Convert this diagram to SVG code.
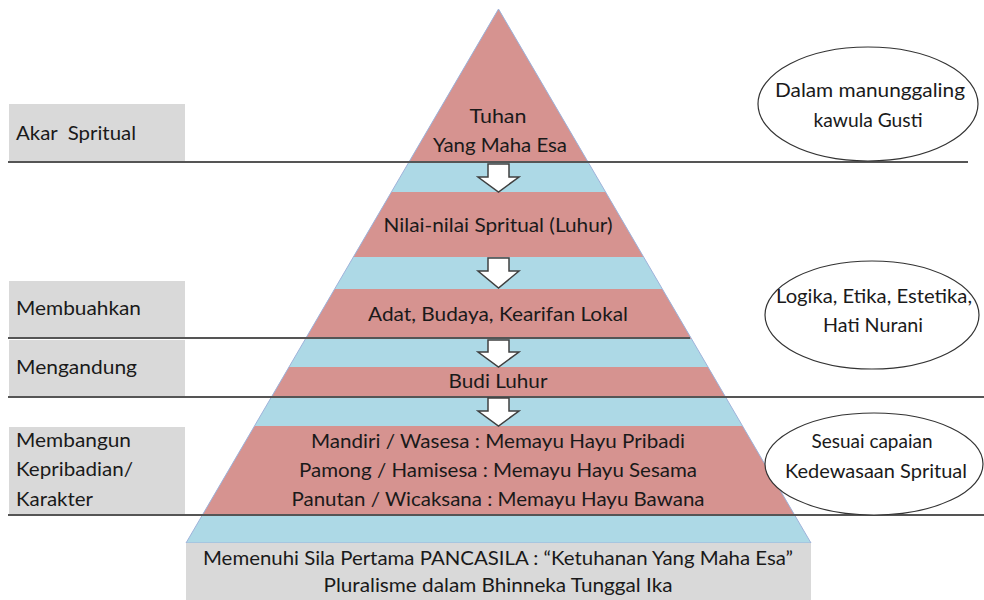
<svg xmlns="http://www.w3.org/2000/svg" width="984" height="600" viewBox="0 0 984 600">
<style>
text{font-family:Lato,"Open Sans","Liberation Sans",sans-serif;font-size:20px;fill:#1a1a1a}
.c{text-anchor:middle}
.pink{fill:#D69390}
.gray{fill:#D9D9D9}
.sep{stroke:#555;stroke-width:2;fill:none}
.ell{fill:#fff;stroke:#333;stroke-width:1.2}
.arr{fill:#fff;stroke:#404040;stroke-width:1.5;stroke-linejoin:miter}
</style>
<defs>
<clipPath id="tri"><polygon points="498.5,9 186,543 811,543"/></clipPath>
</defs>
<rect width="984" height="600" fill="#fff"/>
<g id="pyramid">
<polygon points="498.5,9 186,543 811,543" fill="#ADD9E6"/>
<g clip-path="url(#tri)">
<rect class="pink" x="0" y="0" width="984" height="163"/>
<rect class="pink" x="0" y="192" width="984" height="65"/>
<rect class="pink" x="0" y="289" width="984" height="50"/>
<rect class="pink" x="0" y="367" width="984" height="30"/>
<rect class="pink" x="0" y="426" width="984" height="89"/>
</g>
<polygon points="498.5,9 186,543 811,543" fill="none" stroke="#9FB2DA" stroke-width="1"/>
</g>
<g id="base">
<rect class="gray" x="186" y="543" width="625" height="57"/>
<text class="c" x="498" y="565" textLength="590" lengthAdjust="spacingAndGlyphs">Memenuhi Sila Pertama PANCASILA : “Ketuhanan Yang Maha Esa”</text>
<text class="c" x="498" y="592" textLength="349" lengthAdjust="spacingAndGlyphs">Pluralisme dalam Bhinneka Tunggal Ika</text>
</g>
<g id="label-akar"><rect class="gray" x="9" y="104" width="176" height="58"/><text x="16" y="140" xml:space="preserve" textLength="120" lengthAdjust="spacingAndGlyphs">Akar  Spritual</text></g>
<g id="label-membuahkan"><rect class="gray" x="9" y="281" width="176" height="57"/><text x="16" y="315" textLength="125" lengthAdjust="spacingAndGlyphs">Membuahkan</text></g>
<g id="label-mengandung"><rect class="gray" x="9" y="340" width="176" height="57"/><text x="16" y="374" textLength="121" lengthAdjust="spacingAndGlyphs">Mengandung</text></g>
<g id="label-membangun"><rect class="gray" x="9" y="427" width="176" height="88"/>
<text x="16" y="447" textLength="115" lengthAdjust="spacingAndGlyphs">Membangun</text>
<text x="16" y="476" textLength="117" lengthAdjust="spacingAndGlyphs">Kepribadian/</text>
<text x="16" y="506" textLength="77" lengthAdjust="spacingAndGlyphs">Karakter</text></g>
<g id="separators">
<line class="sep" x1="8" y1="162" x2="968" y2="162"/>
<line class="sep" x1="8" y1="338" x2="690" y2="338"/>
<line class="sep" x1="8" y1="397" x2="984" y2="397"/>
<line class="sep" x1="8" y1="515" x2="984" y2="515"/>
</g>
<g id="level-tuhan">
<text class="c" x="498" y="123" textLength="57" lengthAdjust="spacingAndGlyphs">Tuhan</text>
<text class="c" x="500" y="152" textLength="134" lengthAdjust="spacingAndGlyphs">Yang Maha Esa</text>
</g>
<g id="level-nilai"><text class="c" x="498" y="232" textLength="229" lengthAdjust="spacingAndGlyphs">Nilai-nilai Spritual (Luhur)</text></g>
<g id="level-adat"><text class="c" x="498" y="321" textLength="260" lengthAdjust="spacingAndGlyphs">Adat, Budaya, Kearifan Lokal</text></g>
<g id="level-budi"><text class="c" x="498" y="388" textLength="99" lengthAdjust="spacingAndGlyphs">Budi Luhur</text></g>
<g id="level-karakter">
<text class="c" x="498" y="448" textLength="374" lengthAdjust="spacingAndGlyphs">Mandiri / Wasesa : Memayu Hayu Pribadi</text>
<text class="c" x="498" y="477" textLength="398" lengthAdjust="spacingAndGlyphs">Pamong / Hamisesa : Memayu Hayu Sesama</text>
<text class="c" x="498" y="506" textLength="413" lengthAdjust="spacingAndGlyphs">Panutan / Wicaksana : Memayu Hayu Bawana</text>
</g>
<g id="note-manunggaling">
<ellipse class="ell" cx="868" cy="104" rx="110" ry="57"/>
<text class="c" x="870" y="97" textLength="190" lengthAdjust="spacingAndGlyphs">Dalam manunggaling</text>
<text class="c" x="868" y="127" textLength="109" lengthAdjust="spacingAndGlyphs">kawula Gusti</text>
</g>
<g id="note-logika">
<ellipse class="ell" cx="872" cy="315" rx="107" ry="54"/>
<text class="c" x="874" y="303" textLength="196" lengthAdjust="spacingAndGlyphs">Logika, Etika, Estetika,</text>
<text class="c" x="873" y="332" textLength="100" lengthAdjust="spacingAndGlyphs">Hati Nurani</text>
</g>
<g id="note-kedewasaan">
<ellipse class="ell" cx="874" cy="464" rx="109" ry="51"/>
<text class="c" x="872" y="448" textLength="121" lengthAdjust="spacingAndGlyphs">Sesuai capaian</text>
<text class="c" x="876" y="478" textLength="182" lengthAdjust="spacingAndGlyphs">Kedewasaan Spritual</text>
</g>
<g id="connectors">
<polygon class="arr" points="488,164 509,164 509,177 519,177 498.5,192 478,177 488,177"/>
<polygon class="arr" points="488,258 509,258 509,271 519,271 498.5,288 478,271 488,271"/>
<polygon class="arr" points="488,340 509,340 509,352 519,352 498.5,367 478,352 488,352"/>
<polygon class="arr" points="488,398 509,398 509,411 519,411 498.5,426 478,411 488,411"/>
</g>
</svg>
